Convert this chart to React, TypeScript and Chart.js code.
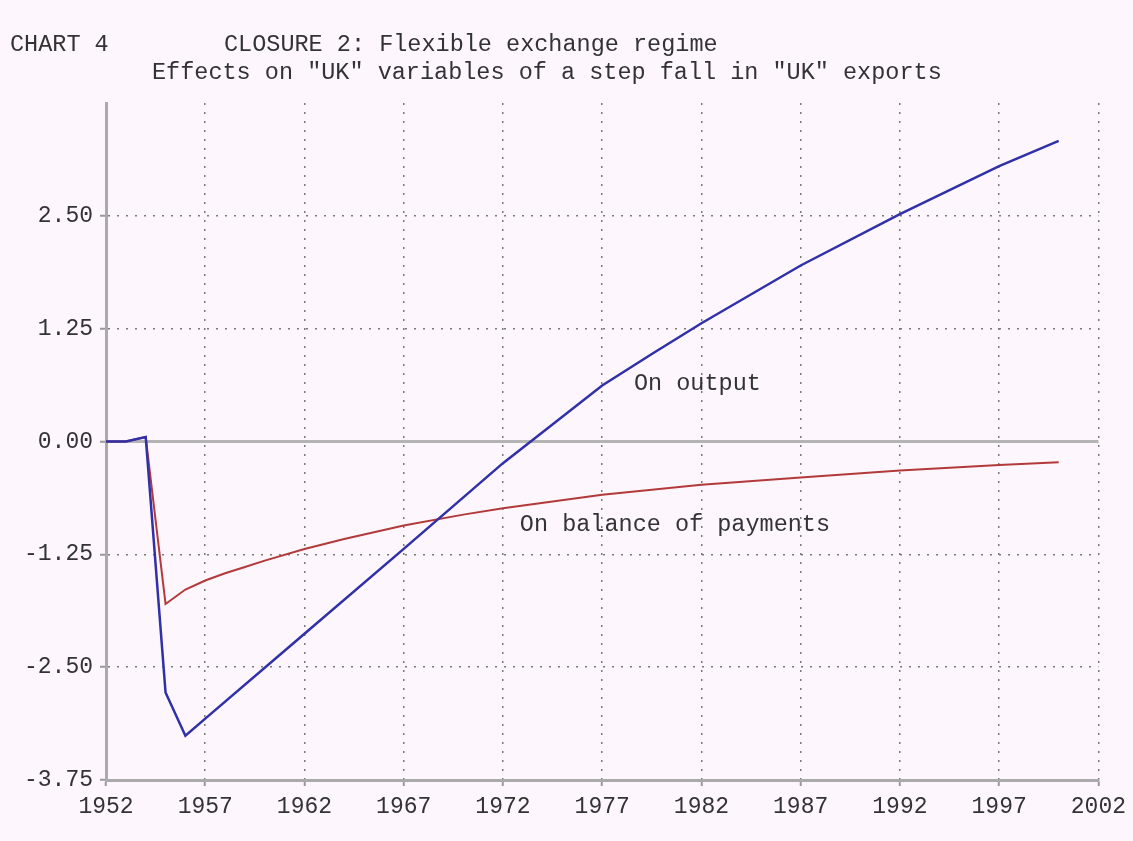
import React, { useEffect, useRef } from 'react';
import { Chart, registerables } from 'chart.js';

Chart.register(...registerables);

const outputYears = [1952, 1953, 1954, 1955, 1956, 1957, 1962, 1967, 1972, 1977, 1979.5, 1982, 1987, 1992, 1997, 2000];
const outputValues = [0, 0, 0.05, -2.78, -3.26, -3.07, -2.13, -1.19, -0.24, 0.62, 0.97, 1.31, 1.95, 2.52, 3.05, 3.33];

const bopYears = [1952, 1953, 1954, 1955, 1956, 1957, 1958, 1959, 1960, 1962, 1964, 1967, 1970, 1972, 1977, 1982, 1987, 1992, 1997, 2000];
const bopValues = [0, 0, 0.05, -1.8, -1.64, -1.54, -1.46, -1.39, -1.32, -1.19, -1.08, -0.93, -0.81, -0.74, -0.59, -0.48, -0.4, -0.32, -0.26, -0.23];

const xTicks = [1952, 1957, 1962, 1967, 1972, 1977, 1982, 1987, 1992, 1997, 2002];
const yTicks = [-3.75, -2.5, -1.25, 0, 1.25, 2.5, 3.75];

const titleLeft = 'CHART 4';
const titleMain = 'CLOSURE 2: Flexible exchange regime';
const subTitle = 'Effects on "UK" variables of a step fall in "UK" exports';
const outputLabel = { text: 'On output', x: 1978.6, y: 0.64 };
const bopLabel = { text: 'On balance of payments', x: 1972.85, y: -0.92 };

const FONT = '"Liberation Mono", "DejaVu Sans Mono", monospace';
const BG = '#fdf6fc';
const TEXT = '#333333';

export default function App() {
  const ref = useRef<HTMLCanvasElement | null>(null);

  useEffect(() => {
    if (!ref.current) return;
    document.body.style.background = BG;

    const bgPlugin = {
      id: 'bg',
      beforeDraw(chart: any) {
        const ctx = chart.ctx;
        ctx.save();
        ctx.fillStyle = BG;
        ctx.fillRect(0, 0, chart.width, chart.height);
        ctx.restore();
      },
    };

    const zeroPlugin = {
      id: 'zero',
      beforeDatasetsDraw(chart: any) {
        const { ctx, chartArea, scales } = chart;
        const y = scales.y.getPixelForValue(0);
        ctx.save();
        ctx.strokeStyle = '#b4b4b4';
        ctx.lineWidth = 3;
        ctx.beginPath();
        ctx.moveTo(chartArea.left, y);
        ctx.lineTo(chartArea.right, y);
        ctx.stroke();
        ctx.restore();
      },
    };

    const textPlugin = {
      id: 'texts',
      afterDraw(chart: any) {
        const { ctx, scales } = chart;
        ctx.save();
        ctx.fillStyle = TEXT;
        ctx.font = `23.5px ${FONT}`;
        ctx.textAlign = 'left';
        ctx.textBaseline = 'alphabetic';
        ctx.fillText(titleLeft, 10, 51);
        ctx.fillText(titleMain, 224, 51);
        ctx.fillText(subTitle, 152, 79);
        ctx.textBaseline = 'middle';
        ctx.fillText(outputLabel.text, scales.x.getPixelForValue(outputLabel.x), scales.y.getPixelForValue(outputLabel.y));
        ctx.fillText(bopLabel.text, scales.x.getPixelForValue(bopLabel.x), scales.y.getPixelForValue(bopLabel.y));
        ctx.restore();
      },
    };

    const chart = new Chart(ref.current, {
      type: 'line',
      data: {
        datasets: [
          {
            label: 'On output',
            data: outputYears.map((x, i) => ({ x, y: outputValues[i] })),
            borderColor: '#3030a8',
            borderWidth: 2.5,
            pointRadius: 0,
            tension: 0,
            fill: false,
          },
          {
            label: 'On balance of payments',
            data: bopYears.map((x, i) => ({ x, y: bopValues[i] })),
            borderColor: '#b23a3a',
            borderWidth: 2,
            pointRadius: 0,
            tension: 0,
            fill: false,
          },
        ],
      },
      plugins: [bgPlugin, zeroPlugin, textPlugin],
      options: {
        animation: false,
        responsive: false,
        layout: { padding: { top: 103, right: 34, left: 0, bottom: 0 } },
        plugins: { legend: { display: false }, tooltip: { enabled: false }, title: { display: false } },
        scales: {
          x: {
            type: 'linear',
            min: 1952,
            max: 2002,
            afterBuildTicks: (s: any) => {
              s.ticks = xTicks.map((v) => ({ value: v }));
            },
            afterFit: (s: any) => {
              s.height = 61;
            },
            ticks: {
              callback: (v: any) => String(v),
              font: { family: FONT, size: 23 },
              color: TEXT,
              padding: 7,
              maxRotation: 0,
              autoSkip: false,
            },
            grid: {
              color: (c: any) => (c.tick && c.tick.value === 1952 ? 'rgba(0,0,0,0)' : '#7a7a7a'),
              lineWidth: 1.5,
              tickLength: 6,
              tickColor: '#999999',
              tickWidth: 2,
            },
            border: { display: true, color: '#aaaaaa', width: 3, dash: [2, 7] },
          },
          y: {
            type: 'linear',
            min: -3.75,
            max: 3.75,
            afterBuildTicks: (s: any) => {
              s.ticks = yTicks.map((v) => ({ value: v }));
            },
            afterFit: (s: any) => {
              s.width = 106;
            },
            ticks: {
              callback: (v: any) => (v === 3.75 ? '' : Number(v).toFixed(2)),
              font: { family: FONT, size: 23 },
              color: TEXT,
              padding: 7,
              autoSkip: false,
            },
            grid: {
              color: (c: any) =>
                c.tick && (c.tick.value === 0 || c.tick.value === 3.75 || c.tick.value === -3.75)
                  ? 'rgba(0,0,0,0)'
                  : '#7a7a7a',
              lineWidth: 1.5,
              tickLength: 6,
              tickColor: (c: any) => (c.tick && c.tick.value === 3.75 ? 'rgba(0,0,0,0)' : '#999999'),
              tickWidth: 2,
            },
            border: { display: true, color: '#aaaaaa', width: 3, dash: [2, 7] },
          },
        },
      },
    } as any);

    return () => chart.destroy();
  }, []);

  return (
    <div style={{ position: 'fixed', left: 0, top: 0, width: 1133, height: 841, background: BG }}>
      <canvas ref={ref} width={1133} height={841} style={{ display: 'block', width: 1133, height: 841 }} />
    </div>
  );
}
